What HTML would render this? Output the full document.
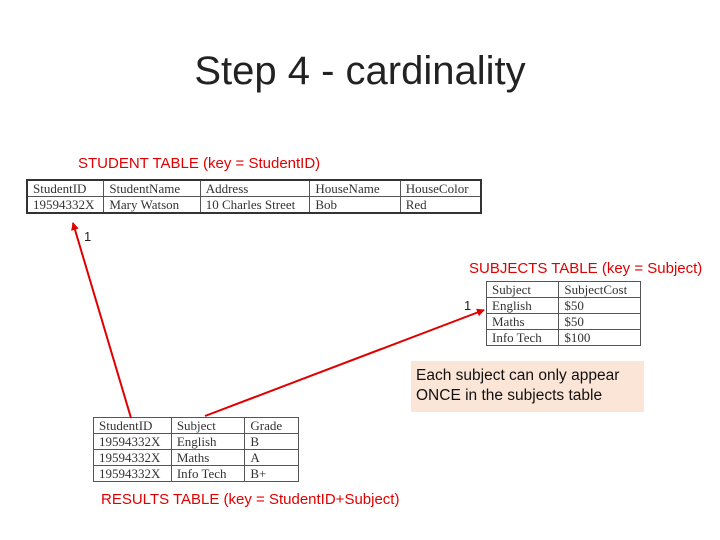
<!DOCTYPE html>
<html><head><style>
body{margin:0;width:720px;height:540px;background:#fff;position:relative;overflow:hidden;font-family:"Liberation Serif",serif}
.t{position:absolute;font-family:"Liberation Sans",sans-serif}
table{position:absolute;border-collapse:collapse;font-size:13px;color:#333;background:#fff}
td{border:1px solid #555;padding:0 5px;height:15px;line-height:15px;white-space:nowrap;overflow:hidden}
.red{color:#e00000;font-size:15px}
</style></head><body>
<div class="t" style="left:0;width:720px;top:49px;text-align:center;font-size:40px;color:#222">Step 4 - cardinality</div>
<div class="t red" style="left:78px;top:155px">STUDENT TABLE (key = StudentID)</div>
<table style="left:26px;top:179px;width:456px;border:2px solid #333">
<colgroup><col style="width:77px"><col style="width:97px"><col style="width:110px"><col style="width:91px"><col style="width:81px"></colgroup>
<tr><td>StudentID</td><td>StudentName</td><td>Address</td><td>HouseName</td><td>HouseColor</td></tr>
<tr><td>19594332X</td><td>Mary Watson</td><td>10 Charles Street</td><td>Bob</td><td>Red</td></tr>
</table>
<div class="t" style="left:84px;top:229px;font-size:13px;color:#222">1</div>
<div class="t red" style="left:469px;top:260px">SUBJECTS TABLE (key = Subject)</div>
<div class="t" style="left:464px;top:298px;font-size:13px;color:#222">1</div>
<table style="left:486px;top:281px;width:155px">
<colgroup><col style="width:73px"><col style="width:82px"></colgroup>
<tr><td>Subject</td><td>SubjectCost</td></tr>
<tr><td>English</td><td>$50</td></tr>
<tr><td>Maths</td><td>$50</td></tr>
<tr><td>Info Tech</td><td>$100</td></tr>
</table>
<div class="t" style="left:411px;top:361px;width:228px;height:41px;padding:5px 0 5px 5px;background:#fbe5d6;font-size:15.5px;line-height:20px;color:#111;white-space:nowrap">Each subject can only appear<br>ONCE in the subjects table</div>
<table style="left:93px;top:417px;width:206px">
<colgroup><col style="width:78px"><col style="width:74px"><col style="width:54px"></colgroup>
<tr><td>StudentID</td><td>Subject</td><td>Grade</td></tr>
<tr><td>19594332X</td><td>English</td><td>B</td></tr>
<tr><td>19594332X</td><td>Maths</td><td>A</td></tr>
<tr><td>19594332X</td><td>Info Tech</td><td>B+</td></tr>
</table>
<div class="t red" style="left:101px;top:491px">RESULTS TABLE (key = StudentID+Subject)</div>
<svg style="position:absolute;left:0;top:0" width="720" height="540">
<defs><marker id="a" markerWidth="8" markerHeight="8" refX="7" refY="4" orient="auto" markerUnits="userSpaceOnUse"><path d="M0,0L8,4L0,8z" fill="#e00000"/></marker></defs>
<line x1="131" y1="418" x2="73" y2="223" stroke="#e00000" stroke-width="2" marker-end="url(#a)"/>
<line x1="205" y1="416" x2="484" y2="310" stroke="#e00000" stroke-width="2" marker-end="url(#a)"/>
</svg>
</body></html>
